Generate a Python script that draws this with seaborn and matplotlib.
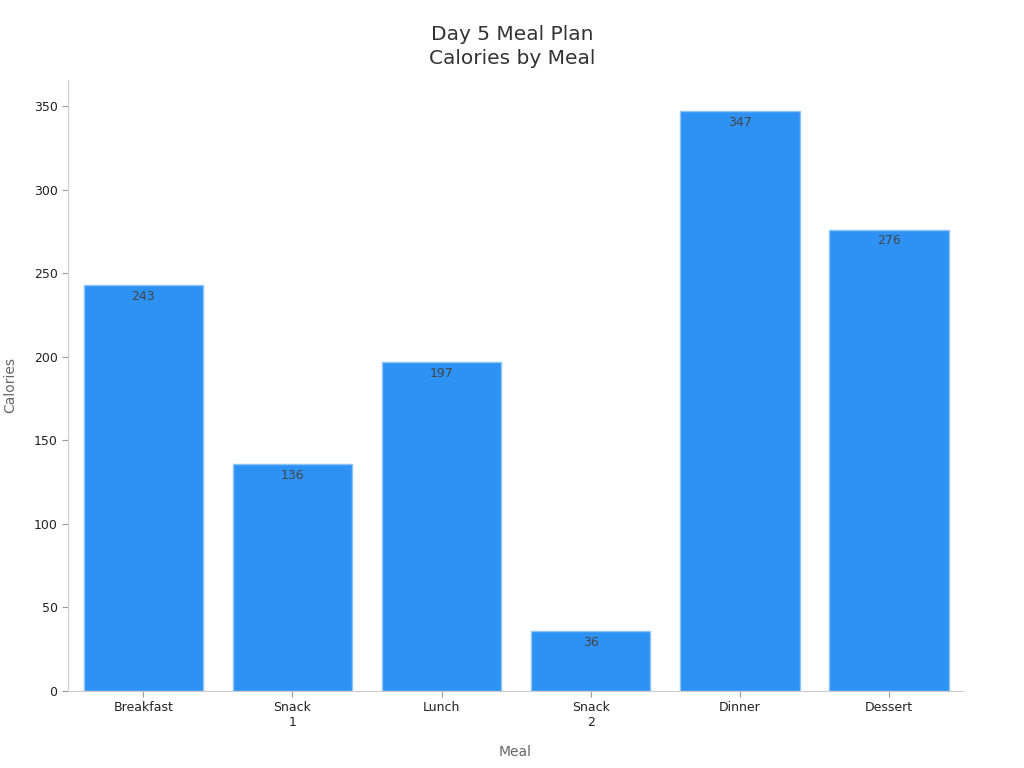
import pandas as pd
import seaborn as sns
import matplotlib.pyplot as plt

meals = ['Breakfast', 'Snack\n1', 'Lunch', 'Snack\n2', 'Dinner', 'Dessert']
calories = [243, 136, 197, 36, 347, 276]

sns.set_theme(style='ticks')
plt.rcParams['font.family'] = ['DejaVu Sans']

df = pd.DataFrame({'Meal': meals, 'Calories': calories})

fig = plt.figure(figsize=(10.24, 7.68), dpi=100)
ax = fig.add_axes([0.0664, 0.1003, 0.874, 0.7955])

sns.barplot(data=df, x='Meal', y='Calories', color='#2e92f5', saturation=1,
            edgecolor='#8cc4fa', linewidth=1, width=0.8, ax=ax)

for bar, val in zip(ax.patches, calories):
    ax.annotate(str(val), (bar.get_x() + bar.get_width() / 2, bar.get_height()),
                xytext=(0, -3.5), textcoords='offset points', ha='center', va='top',
                fontsize=9, color='#444444')

ax.set_xlim(-0.505, 5.495)
ax.set_ylim(0, 365.5)
ax.set_yticks(range(0, 351, 50))

fig.suptitle('Day 5 Meal Plan\nCalories by Meal', x=0.5, y=0.968, fontsize=14.5,
             color='#333333', linespacing=1.35)
ax.set_xlabel('Meal', fontsize=10, color='#666666', labelpad=11)
ax.set_ylabel('Calories', fontsize=10, color='#666666', labelpad=12)
ax.tick_params(axis='both', labelsize=9, colors='#222222', length=4, width=0.8)
ax.tick_params(axis='both', color='#999999')

sns.despine(ax=ax)
for side in ['left', 'bottom']:
    ax.spines[side].set_color('#cccccc')
    ax.spines[side].set_linewidth(0.8)

plt.savefig('out.png', dpi=100)
plt.close()
